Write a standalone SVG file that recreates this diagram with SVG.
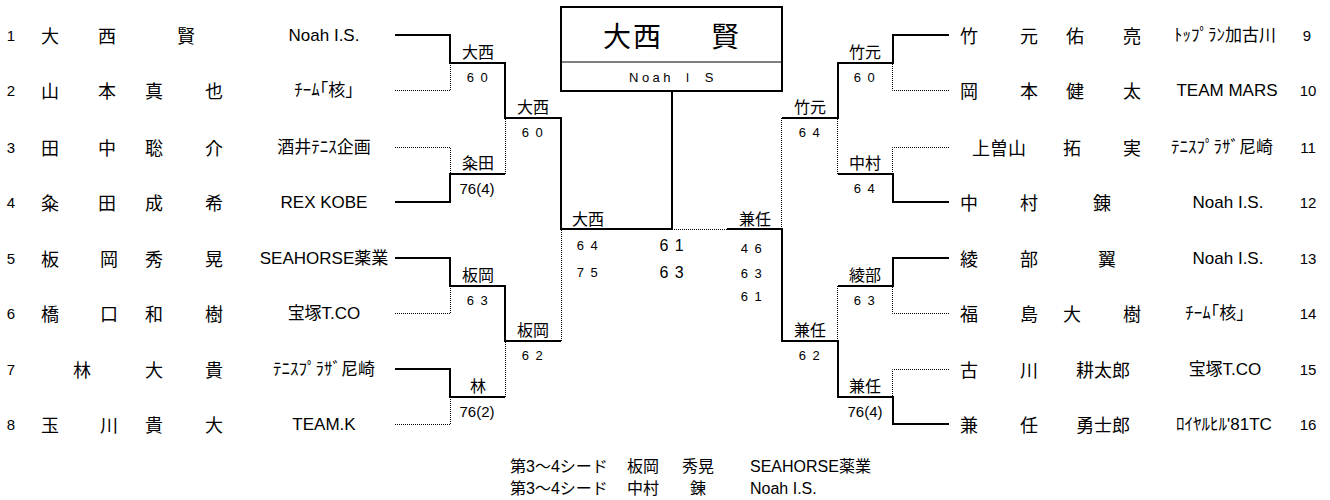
<svg xmlns="http://www.w3.org/2000/svg" width="1330" height="500" viewBox="0 0 1330 500">
<style>
text{dominant-baseline:central;text-anchor:middle;fill:#000}
.num{font-family:"Liberation Sans",sans-serif;font-size:15px}
.nm{font-family:"Noto Sans CJK JP",sans-serif;font-size:18px}
.tm{font-family:"Liberation Sans","Noto Sans CJK JP",sans-serif;font-size:17px}
.lb{font-family:"Noto Sans CJK JP",sans-serif;font-size:16px}
.sc{font-family:"Liberation Sans",sans-serif;font-size:13px;letter-spacing:1.5px}
.tb{font-family:"Liberation Sans",sans-serif;font-size:15px}
.fs{font-family:"Liberation Sans",sans-serif;font-size:16px;letter-spacing:1px}
.bt{font-family:"Liberation Sans","Noto Sans CJK JP",sans-serif;font-size:16px;text-anchor:start}
.s{fill:none;stroke:#000;stroke-width:2}
.d{fill:none;stroke:#000;stroke-width:1;stroke-dasharray:1 1}
</style>
<rect width="1330" height="500" fill="#fff"/>
<g id="connectors">
<path class="s" d="M395,35 H450 V63 H505 V118 H561 V229 H672"/>
<path class="s" d="M395,202 H450 V174 H505"/>
<path class="s" d="M395,258 H450 V286 H505 V341 H561"/>
<path class="s" d="M395,369 H450 V397 H505"/>
<path class="d" d="M395,90.5 H450.5 V63"/>
<path class="d" d="M395,147.5 H450.5 V174"/>
<path class="d" d="M505.5,174 V118"/>
<path class="d" d="M395,313.5 H450.5 V286"/>
<path class="d" d="M395,424.5 H450.5 V397"/>
<path class="d" d="M505.5,397 V341"/>
<path class="d" d="M561.5,341 V229"/>
<path class="s" d="M949,35 H893 V63 H838 V118 H782"/>
<path class="s" d="M949,202 H893 V174 H838"/>
<path class="s" d="M949,258 H893 V286 H838"/>
<path class="s" d="M949,424 H893 V397 H838 V341 H782 V229 H727"/>
<path class="s" d="M672,91 V229"/>
<path class="d" d="M949,90.5 H892.5 V63"/>
<path class="d" d="M949,147.5 H892.5 V174"/>
<path class="d" d="M837.5,174 V118"/>
<path class="d" d="M949,313.5 H892.5 V286"/>
<path class="d" d="M949,369.5 H892.5 V397"/>
<path class="d" d="M837.5,286 V341"/>
<path class="d" d="M781.5,118 V229"/>
<path class="d" d="M727,229.5 H672"/>
</g>
<g id="champion">
<rect x="561" y="7" width="221" height="84" fill="#fff" stroke="#000" stroke-width="2"/>
<line x1="561" y1="62" x2="782" y2="62" stroke="#000" stroke-width="1"/>
<text class="nm" style="font-size:28px" y="35"><tspan x="617">大</tspan><tspan x="647">西</tspan><tspan x="725">賢</tspan></text>
<text class="tb" style="font-size:13px;letter-spacing:3.5px" x="673" y="77">Noah Ｉ S</text>
</g>
<g id="p1"><text class="num" x="11" y="35">1</text><text class="nm" y="35"><tspan x="50">大</tspan><tspan x="107">西</tspan><tspan x="186">賢</tspan></text><text class="tm" x="324" y="35">Noah I.S.</text></g>
<g id="p2"><text class="num" x="11" y="90">2</text><text class="nm" y="90"><tspan x="50">山</tspan><tspan x="107">本</tspan><tspan x="154">真</tspan><tspan x="214">也</tspan></text><text class="tm" x="324" y="90">ﾁｰﾑ｢核｣</text></g>
<g id="p3"><text class="num" x="11" y="147">3</text><text class="nm" y="147"><tspan x="50">田</tspan><tspan x="107">中</tspan><tspan x="154">聡</tspan><tspan x="214">介</tspan></text><text class="tm" x="324" y="147">酒井ﾃﾆｽ企画</text></g>
<g id="p4"><text class="num" x="11" y="202">4</text><text class="nm" y="202"><tspan x="50">粂</tspan><tspan x="107">田</tspan><tspan x="154">成</tspan><tspan x="214">希</tspan></text><text class="tm" x="324" y="202">REX KOBE</text></g>
<g id="p5"><text class="num" x="11" y="258">5</text><text class="nm" y="258"><tspan x="50">板</tspan><tspan x="109">岡</tspan><tspan x="154">秀</tspan><tspan x="214">晃</tspan></text><text class="tm" x="324" y="258">SEAHORSE薬業</text></g>
<g id="p6"><text class="num" x="11" y="313">6</text><text class="nm" y="313"><tspan x="50">橋</tspan><tspan x="109">口</tspan><tspan x="154">和</tspan><tspan x="214">樹</tspan></text><text class="tm" x="324" y="313">宝塚T.CO</text></g>
<g id="p7"><text class="num" x="11" y="369">7</text><text class="nm" y="369"><tspan x="82">林</tspan><tspan x="154">大</tspan><tspan x="214">貴</tspan></text><text class="tm" x="324" y="369">ﾃﾆｽﾌﾟﾗｻﾞ尼崎</text></g>
<g id="p8"><text class="num" x="11" y="424">8</text><text class="nm" y="424"><tspan x="50">玉</tspan><tspan x="109">川</tspan><tspan x="154">貴</tspan><tspan x="214">大</tspan></text><text class="tm" x="324" y="424">TEAM.K</text></g>
<g id="p9"><text class="nm" y="35"><tspan x="969">竹</tspan><tspan x="1029">元</tspan><tspan x="1075">佑</tspan><tspan x="1132">亮</tspan></text><text class="tm" x="1225" y="35">ﾄｯﾌﾟﾗﾝ加古川</text><text class="num" x="1307" y="35">9</text></g>
<g id="p10"><text class="nm" y="90"><tspan x="969">岡</tspan><tspan x="1029">本</tspan><tspan x="1075">健</tspan><tspan x="1132">太</tspan></text><text class="tm" x="1227" y="90">TEAM MARS</text><text class="num" x="1308" y="90">10</text></g>
<g id="p11"><text class="nm" y="147"><tspan x="999">上曽山</tspan><tspan x="1072">拓</tspan><tspan x="1132">実</tspan></text><text class="tm" x="1222" y="147">ﾃﾆｽﾌﾟﾗｻﾞ尼崎</text><text class="num" x="1308" y="147">11</text></g>
<g id="p12"><text class="nm" y="202"><tspan x="969">中</tspan><tspan x="1029">村</tspan><tspan x="1102">錬</tspan></text><text class="tm" x="1228" y="202">Noah I.S.</text><text class="num" x="1308" y="202">12</text></g>
<g id="p13"><text class="nm" y="258"><tspan x="969">綾</tspan><tspan x="1029">部</tspan><tspan x="1107">翼</tspan></text><text class="tm" x="1228" y="258">Noah I.S.</text><text class="num" x="1308" y="258">13</text></g>
<g id="p14"><text class="nm" y="313"><tspan x="969">福</tspan><tspan x="1029">島</tspan><tspan x="1072">大</tspan><tspan x="1132">樹</tspan></text><text class="tm" x="1215" y="313">ﾁｰﾑ｢核｣</text><text class="num" x="1308" y="313">14</text></g>
<g id="p15"><text class="nm" y="369"><tspan x="969">古</tspan><tspan x="1029">川</tspan><tspan x="1103">耕太郎</tspan></text><text class="tm" x="1225" y="369">宝塚T.CO</text><text class="num" x="1308" y="369">15</text></g>
<g id="p16"><text class="nm" y="424"><tspan x="969">兼</tspan><tspan x="1029">任</tspan><tspan x="1103">勇士郎</tspan></text><text class="tm" x="1224" y="424">ﾛｲﾔﾙﾋﾙ'81TC</text><text class="num" x="1308" y="424">16</text></g>
<g id="results">
<text class="lb" x="478" y="51">大西</text><text class="sc" x="478" y="77">6 0</text>
<text class="lb" x="478" y="162">粂田</text><text class="tb" x="477" y="188">76(4)</text>
<text class="lb" x="478" y="274">板岡</text><text class="sc" x="478" y="300">6 3</text>
<text class="lb" x="478" y="385">林</text><text class="tb" x="477" y="411">76(2)</text>
<text class="lb" x="533" y="106">大西</text><text class="sc" x="533" y="132">6 0</text>
<text class="lb" x="533" y="329">板岡</text><text class="sc" x="533" y="355">6 2</text>
<text class="lb" x="865" y="51">竹元</text><text class="sc" x="865" y="77">6 0</text>
<text class="lb" x="865" y="162">中村</text><text class="sc" x="865" y="188">6 4</text>
<text class="lb" x="865" y="274">綾部</text><text class="sc" x="865" y="300">6 3</text>
<text class="lb" x="865" y="385">兼任</text><text class="tb" x="865" y="411">76(4)</text>
<text class="lb" x="810" y="106">竹元</text><text class="sc" x="810" y="132">6 4</text>
<text class="lb" x="810" y="329">兼任</text><text class="sc" x="810" y="355">6 2</text>
<text class="lb" x="588" y="218">大西</text><text class="sc" x="588" y="245">6 4</text><text class="sc" x="588" y="272">7 5</text>
<text class="fs" x="672" y="245">6 1</text><text class="fs" x="672" y="272">6 3</text>
<text class="lb" x="755" y="218">兼任</text><text class="sc" x="752" y="248">4 6</text><text class="sc" x="752" y="273">6 3</text><text class="sc" x="752" y="296">6 1</text>
</g>
<g id="seeds">
<text class="bt" y="466"><tspan x="510">第3～4シード</tspan><tspan x="627">板岡</tspan><tspan x="682">秀晃</tspan><tspan x="750">SEAHORSE薬業</tspan></text>
<text class="bt" y="488"><tspan x="510">第3～4シード</tspan><tspan x="627">中村</tspan><tspan x="690">錬</tspan><tspan x="750">Noah I.S.</tspan></text>
</g>
</svg>
